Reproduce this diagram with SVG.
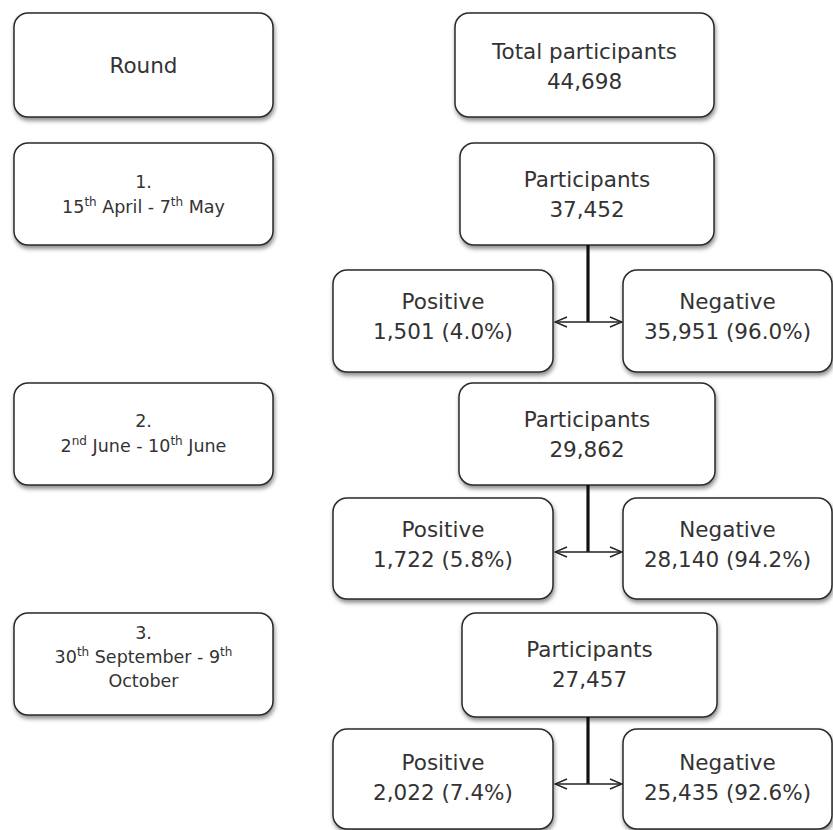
<svg xmlns="http://www.w3.org/2000/svg" width="833" height="830" viewBox="0 0 833 830">
<defs>
<filter id="sh" x="-10%" y="-10%" width="120%" height="130%">
<feDropShadow dx="1" dy="3" stdDeviation="2.2" flood-color="#000" flood-opacity="0.45"/>
</filter>
<marker id="ah" viewBox="0 0 14 12" refX="13" refY="6" markerWidth="14" markerHeight="12" markerUnits="userSpaceOnUse" orient="auto-start-reverse">
<path d="M1,1 L13,6 L1,11" fill="none" stroke="#222" stroke-width="1.4"/>
</marker>
</defs>
<style>
.box{fill:#fff;stroke:#2a2a2a;stroke-width:1.5;filter:url(#sh)}
text{font-family:"DejaVu Sans","Liberation Sans",sans-serif;fill:#333;text-anchor:middle}
.big{font-size:21.5px}
.sm{font-size:17.5px}
.sup{font-size:12px}
.stem{stroke:#111;stroke-width:3.2;fill:none}
.arr{stroke:#222;stroke-width:1.4;fill:none;marker-start:url(#ah);marker-end:url(#ah)}
</style>
<rect width="833" height="830" fill="#fff"/>

<g id="round-header">
<rect class="box" x="14" y="13" width="259" height="104" rx="14"/>
<text class="big" x="143.5" y="73">Round</text>
</g>
<g id="round-1">
<rect class="box" x="14" y="143" width="259" height="102" rx="14"/>
<text class="sm" x="143.5" y="188">1.</text>
<text class="sm" x="143.5" y="213">15<tspan class="sup" dy="-7">th</tspan><tspan dy="7"> April - 7</tspan><tspan class="sup" dy="-7">th</tspan><tspan dy="7"> May</tspan></text>
</g>
<g id="round-2">
<rect class="box" x="14" y="383" width="259" height="102" rx="14"/>
<text class="sm" x="143.5" y="427">2.</text>
<text class="sm" x="143.5" y="452">2<tspan class="sup" dy="-7">nd</tspan><tspan dy="7"> June - 10</tspan><tspan class="sup" dy="-7">th</tspan><tspan dy="7"> June</tspan></text>
</g>
<g id="round-3">
<rect class="box" x="14" y="613" width="259" height="102" rx="14"/>
<text class="sm" x="143.5" y="639">3.</text>
<text class="sm" x="143.5" y="663">30<tspan class="sup" dy="-7">th</tspan><tspan dy="7"> September - 9</tspan><tspan class="sup" dy="-7">th</tspan></text>
<text class="sm" x="143.5" y="687">October</text>
</g>

<g id="total">
<rect class="box" x="455" y="13" width="259" height="104" rx="14"/>
<text class="big" x="584.5" y="59">Total participants</text>
<text class="big" x="584.5" y="89">44,698</text>
</g>
<g id="participants-1">
<rect class="box" x="460" y="143" width="254" height="102" rx="14"/>
<text class="big" x="587" y="187">Participants</text>
<text class="big" x="587" y="217">37,452</text>
</g>
<g id="positive-1">
<rect class="box" x="333" y="270" width="220" height="102" rx="14"/>
<text class="big" x="443" y="309">Positive</text>
<text class="big" x="443" y="339">1,501 (4.0%)</text>
</g>
<g id="negative-1">
<rect class="box" x="623" y="270" width="209" height="102" rx="14"/>
<text class="big" x="727.5" y="309">Negative</text>
<text class="big" x="727.5" y="339">35,951 (96.0%)</text>
</g>
<g id="participants-2">
<rect class="box" x="459" y="383" width="256" height="102" rx="14"/>
<text class="big" x="587" y="427">Participants</text>
<text class="big" x="587" y="457">29,862</text>
</g>
<g id="positive-2">
<rect class="box" x="333" y="498" width="220" height="101" rx="14"/>
<text class="big" x="443" y="537">Positive</text>
<text class="big" x="443" y="567">1,722 (5.8%)</text>
</g>
<g id="negative-2">
<rect class="box" x="623" y="498" width="209" height="101" rx="14"/>
<text class="big" x="727.5" y="537">Negative</text>
<text class="big" x="727.5" y="567">28,140 (94.2%)</text>
</g>
<g id="participants-3">
<rect class="box" x="462" y="613" width="255" height="104" rx="14"/>
<text class="big" x="589.5" y="657">Participants</text>
<text class="big" x="589.5" y="687">27,457</text>
</g>
<g id="positive-3">
<rect class="box" x="333" y="729" width="220" height="100" rx="14"/>
<text class="big" x="443" y="770">Positive</text>
<text class="big" x="443" y="800">2,022 (7.4%)</text>
</g>
<g id="negative-3">
<rect class="box" x="623" y="729" width="209" height="100" rx="14"/>
<text class="big" x="727.5" y="770">Negative</text>
<text class="big" x="727.5" y="800">25,435 (92.6%)</text>
</g>

<g id="connectors">
<line class="stem" x1="588" y1="245" x2="588" y2="322"/>
<line class="arr" x1="555" y1="322" x2="622" y2="322"/>
<line class="stem" x1="588" y1="485" x2="588" y2="552"/>
<line class="arr" x1="555" y1="552" x2="622" y2="552"/>
<line class="stem" x1="588" y1="717" x2="588" y2="784"/>
<line class="arr" x1="555" y1="784" x2="622" y2="784"/>
</g>
</svg>
